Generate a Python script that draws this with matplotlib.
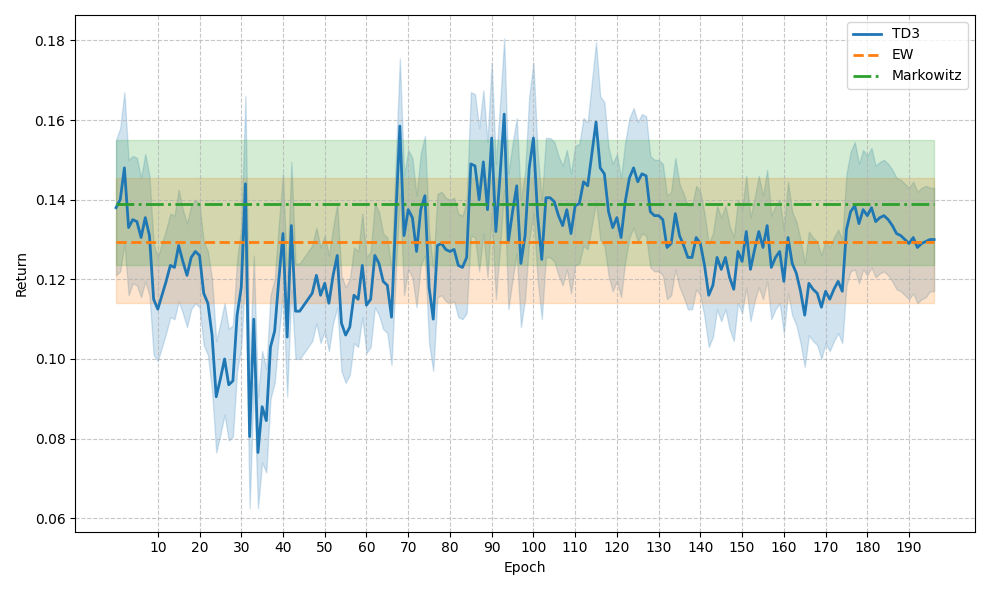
import numpy as np
import matplotlib
matplotlib.use("Agg")
import matplotlib.pyplot as plt

td3_mean = [
0.138,0.140,0.148,0.133,0.135,0.1345,0.1305,0.1355,0.131,0.115,
0.1125,0.116,0.1195,0.1235,0.123,0.1285,0.1245,0.121,0.1255,0.127,
0.126,0.1165,0.114,0.106,0.0905,0.095,0.100,0.0935,0.0945,0.111,
0.118,0.144,0.0805,0.110,0.0765,0.088,0.0845,0.103,0.107,0.120,
0.1315,0.1055,0.1335,0.112,0.112,0.1135,0.115,0.1165,0.121,0.116,
0.119,0.114,0.121,0.126,0.109,0.106,0.108,0.116,0.115,0.1235,
0.1135,0.115,0.126,0.124,0.1195,0.1185,0.1105,0.135,0.1585,0.131,
0.1375,0.1355,0.127,0.1375,0.141,0.118,0.110,0.1285,0.129,0.1275,
0.127,0.1275,0.1235,0.123,0.1255,0.149,0.1485,0.140,0.1495,0.1375,
0.1555,0.132,0.146,0.1615,0.1295,0.137,0.1435,0.124,0.131,0.148,
0.1555,0.136,0.125,0.1405,0.1405,0.1395,0.136,0.1335,0.1375,0.1315,
0.1385,0.139,0.1445,0.1435,0.1515,0.1595,0.148,0.1465,0.137,0.133,
0.1355,0.1305,0.1395,0.1455,0.148,0.1445,0.1465,0.146,0.137,0.136,
0.136,0.135,0.128,0.129,0.1365,0.131,0.1285,0.1255,0.1255,0.1305,
0.129,0.1235,0.116,0.1185,0.1255,0.1225,0.1255,0.1205,0.1175,0.127,
0.1245,0.132,0.1225,0.1275,0.132,0.128,0.1335,0.123,0.1255,0.127,
0.1195,0.1305,0.124,0.1215,0.117,0.111,0.119,0.1175,0.1165,0.113,
0.117,0.115,0.1175,0.1195,0.117,0.1325,0.137,0.1385,0.134,0.1375,
0.136,0.138,0.1345,0.1355,0.136,0.135,0.1335,0.1315,0.131,0.130,
0.129,0.1305,0.128,0.129,0.1295,0.130,0.130]

td3_spread = [
0.017,0.018,0.019,0.017,0.016,0.016,0.015,0.016,0.015,0.014,
0.013,0.013,0.013,0.013,0.013,0.014,0.013,0.013,0.013,0.013,
0.013,0.013,0.013,0.014,0.014,0.014,0.014,0.014,0.014,0.014,
0.015,0.022,0.018,0.016,0.014,0.014,0.013,0.013,0.013,0.014,
0.015,0.015,0.016,0.012,0.012,0.012,0.012,0.012,0.012,0.012,
0.012,0.012,0.012,0.013,0.012,0.012,0.012,0.012,0.012,0.013,
0.012,0.012,0.013,0.013,0.012,0.012,0.012,0.014,0.017,0.015,
0.015,0.015,0.014,0.014,0.015,0.014,0.013,0.013,0.013,0.013,
0.013,0.013,0.013,0.013,0.014,0.018,0.018,0.018,0.018,0.017,
0.019,0.017,0.018,0.019,0.017,0.017,0.017,0.016,0.016,0.018,
0.019,0.016,0.015,0.015,0.015,0.015,0.015,0.015,0.015,0.015,
0.015,0.015,0.016,0.016,0.018,0.020,0.018,0.018,0.016,0.016,
0.016,0.015,0.015,0.015,0.015,0.015,0.015,0.015,0.014,0.014,
0.014,0.014,0.013,0.013,0.014,0.013,0.013,0.013,0.013,0.013,
0.013,0.013,0.013,0.013,0.013,0.013,0.013,0.013,0.013,0.013,
0.013,0.014,0.013,0.013,0.014,0.013,0.014,0.013,0.013,0.013,
0.013,0.014,0.013,0.013,0.013,0.013,0.013,0.013,0.013,0.013,
0.013,0.013,0.013,0.013,0.013,0.014,0.015,0.016,0.015,0.015,
0.015,0.015,0.014,0.014,0.014,0.014,0.014,0.014,0.014,0.014,
0.014,0.014,0.014,0.014,0.014,0.013,0.013]

ew_mean, ew_low, ew_high = 0.1295, 0.114, 0.1455
mk_mean, mk_low, mk_high = 0.139, 0.1235, 0.155
xticks = list(range(10, 200, 10))

epochs = np.arange(len(td3_mean))
m = np.array(td3_mean); s = np.array(td3_spread)

fig, ax = plt.subplots(figsize=(9.9, 5.9), dpi=100)
ax.plot(epochs, m, color='#1f77b4', lw=2, label='TD3')
ax.fill_between(epochs, m - s, m + s, color='#1f77b4', alpha=0.2)
ax.plot(epochs, np.full_like(m, ew_mean), color='#ff7f0e', lw=2, ls='--', label='EW')
ax.fill_between(epochs, ew_low, ew_high, color='#ff7f0e', alpha=0.2)
ax.plot(epochs, np.full_like(m, mk_mean), color='#2ca02c', lw=2, ls='-.', label='Markowitz')
ax.fill_between(epochs, mk_low, mk_high, color='#2ca02c', alpha=0.2)
ax.set_xticks(xticks)
ax.set_xlabel('Epoch')
ax.set_ylabel('Return')
ax.grid(True, ls='--', alpha=0.7)
ax.legend(loc='upper right')
fig.tight_layout()
fig.savefig('out.png')
